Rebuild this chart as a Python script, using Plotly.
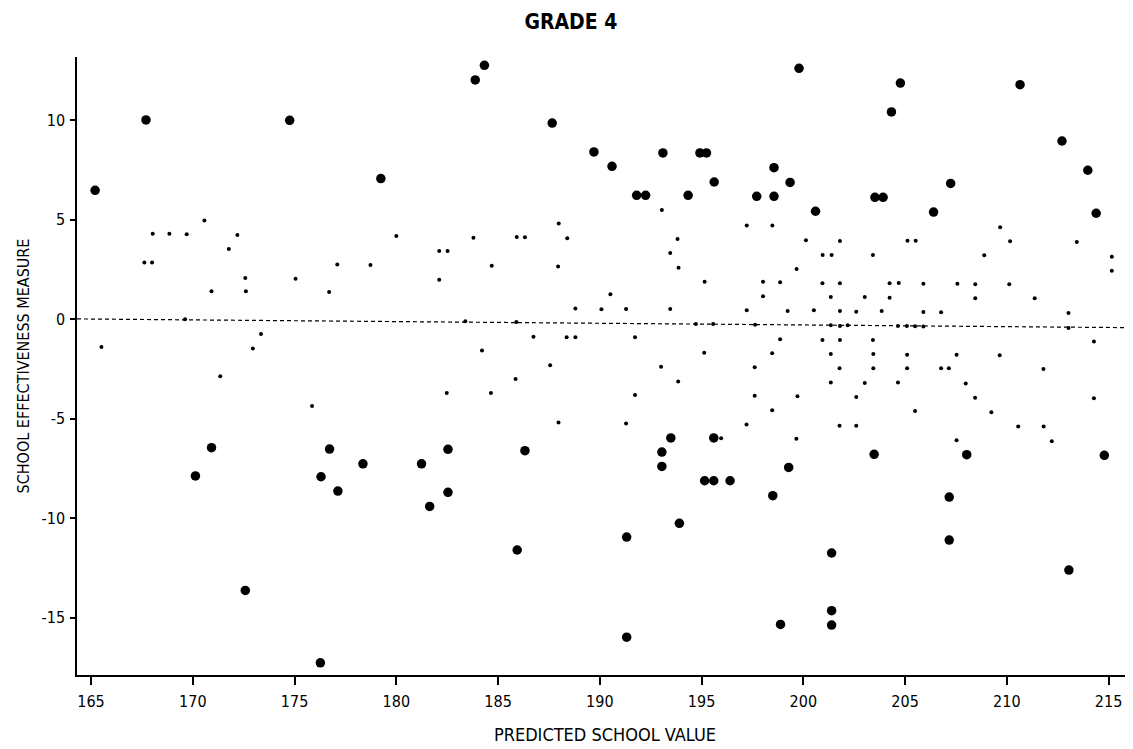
import plotly.graph_objects as go

# Large (outlying) schools
big_x = [167.70, 174.76, 165.2, 184.33, 183.88, 187.66, 189.71, 179.24, 199.79, 190.60,
         193.10, 194.92, 195.24, 195.62, 191.81, 192.25, 194.34, 197.71, 198.56, 198.56,
         199.35, 200.6, 203.52, 203.92, 204.77, 204.33, 210.65, 212.71, 213.98, 214.39,
         207.24, 206.40,
         170.92, 170.13, 172.58, 176.72, 176.30, 177.13, 176.27, 178.36, 181.24, 181.64,
         182.54, 182.54, 186.32, 185.94, 193.49, 193.05, 193.05, 195.60, 195.15, 195.60,
         196.40, 199.28, 198.50, 193.91, 191.32, 191.32, 201.39, 201.39, 201.39, 198.88,
         203.48, 208.03, 207.17, 207.17, 213.05, 214.79]
big_y = [10.02, 10.0, 6.48, 12.76, 12.03, 9.86, 8.41, 7.07, 12.61, 7.69,
         8.36, 8.36, 8.36, 6.90, 6.23, 6.23, 6.23, 6.18, 6.18, 7.62,
         6.88, 5.43, 6.13, 6.13, 11.87, 10.42, 11.79, 8.96, 7.49, 5.33,
         6.83, 5.39,
         -6.45, -7.87, -13.62, -6.52, -7.91, -8.63, -17.26, -7.26, -7.26, -9.40,
         -6.53, -8.69, -6.60, -11.59, -5.96, -6.67, -7.39, -5.96, -8.11, -8.11,
         -8.11, -7.44, -8.86, -10.25, -10.94, -15.97, -11.74, -14.64, -15.36, -15.33,
         -6.78, -6.80, -8.93, -11.09, -12.60, -6.83]

# Small (typical) schools
small_x = [168.03, 168.85, 169.70, 170.57, 167.62, 168.0, 172.19, 171.77, 172.58, 172.61,
           170.92, 175.05, 176.7, 177.1, 169.62, 165.51, 172.95, 173.35,
           180.0, 182.11, 182.52, 183.79, 185.92, 186.32, 187.98, 188.40, 187.95, 178.73,
           182.11, 184.69, 188.80, 190.08, 183.39, 185.9, 186.74, 188.37, 188.80, 184.21,
           187.56,
           193.05, 197.22, 198.48, 193.82, 193.46, 193.87, 200.13, 201.80, 200.95, 201.39,
           203.42, 199.67, 195.15, 198.02, 198.86, 200.94, 201.80, 198.02, 201.35, 203.02,
           190.52, 191.29, 193.46, 197.22, 199.23, 200.52, 201.80, 202.6, 194.72, 195.57,
           197.63, 201.35, 201.80, 202.18, 191.73, 198.86, 200.94, 201.80, 203.42, 195.13,
           198.47, 201.35, 203.44, 193.01, 197.61, 201.78, 203.44,
           209.67, 210.16, 205.12, 205.52, 213.44, 208.89, 215.16, 215.16, 204.24, 204.69,
           205.90, 207.57, 208.45, 210.12, 204.24, 208.45, 211.37, 203.85, 205.90, 206.77,
           213.03, 204.65, 205.09, 205.49, 205.90, 213.03, 214.28, 205.1, 207.53, 209.65,
           205.1, 206.77, 207.15, 211.8,
           171.35, 175.86, 182.48, 184.65, 185.86, 187.97,
           193.85, 191.73, 191.29, 197.61, 199.71, 198.47, 197.21, 195.96, 199.66, 201.35,
           203.02, 202.6, 201.78, 202.6,
           204.65, 207.98, 208.44, 205.49, 209.24, 210.56, 211.81, 212.21, 207.53, 214.28]
small_y = [4.30, 4.30, 4.27, 4.97, 2.86, 2.86, 4.24, 3.53, 2.08, 1.41,
           1.41, 2.04, 1.37, 2.76, 0.0, -1.39, -1.46, -0.74,
           4.19, 3.43, 3.43, 4.10, 4.14, 4.12, 4.82, 4.07, 2.66, 2.73,
           1.99, 2.69, 0.55, 0.50, -0.10, -0.14, -0.87, -0.90, -0.90, -1.56,
           -2.31,
           5.49, 4.72, 4.72, 4.04, 3.33, 2.59, 3.97, 3.93, 3.23, 3.23,
           3.23, 2.53, 1.89, 1.89, 1.86, 1.81, 1.81, 1.16, 1.12, 1.12,
           1.26, 0.52, 0.52, 0.45, 0.42, 0.45, 0.42, 0.38, -0.24, -0.24,
           -0.27, -0.30, -0.34, -0.30, -0.90, -1.0, -1.04, -1.04, -1.04, -1.68,
           -1.71, -1.74, -1.74, -2.38, -2.41, -2.46, -2.46,
           4.62, 3.92, 3.95, 3.95, 3.88, 3.22, 3.15, 2.44, 1.81, 1.82,
           1.79, 1.79, 1.76, 1.76, 1.09, 1.06, 1.06, 0.42, 0.37, 0.35,
           0.32, -0.34, -0.34, -0.35, -0.36, -0.44, -1.11, -1.78, -1.78, -1.81,
           -2.46, -2.46, -2.46, -2.50,
           -2.86, -4.36, -3.70, -3.70, -3.0, -5.18,
           -3.13, -3.80, -5.24, -3.84, -3.87, -4.57, -5.28, -5.98, -6.0, -3.17,
           -3.20, -3.90, -5.35, -5.35,
           -3.17, -3.22, -3.94, -4.61, -4.67, -5.38, -5.38, -6.12, -6.08, -3.97]

# Reference (fitted) line
line_x = [164.31, 216.2]
line_y = [0.02, -0.42]

x_ticks = [165, 170, 175, 180, 185, 190, 195, 200, 205, 210, 215]
y_ticks = [-15, -10, -5, 0, 5, 10]
y_tick_labels = ["-15", "-10", "-5", "0", "5", "10"]

FONT = "Liberation Sans Narrow, DejaVu Sans Condensed, Arial Narrow, sans-serif"

fig = go.Figure()
fig.add_trace(go.Scatter(x=line_x, y=line_y, mode="lines",
                         line=dict(color="black", width=1.2, dash="4px,3px"),
                         hoverinfo="skip"))
fig.add_trace(go.Scatter(x=small_x, y=small_y, mode="markers",
                         marker=dict(color="black", size=4, line=dict(width=0))))
fig.add_trace(go.Scatter(x=big_x, y=big_y, mode="markers",
                         marker=dict(color="black", size=9.5, line=dict(width=0))))

# The page body has an 8px margin, so the figure is sized/offset to compensate.
fig.update_layout(
    width=1125, height=741,
    paper_bgcolor="white", plot_bgcolor="white",
    showlegend=False,
    margin=dict(l=69, r=0, t=49, b=74, autoexpand=False),
    font=dict(family=FONT, color="black", size=15),
    title=dict(text="<b>GRADE 4</b>", x=0.5004, xanchor="center", y=0.981, yanchor="middle",
               font=dict(family=FONT, size=21, color="black")),
)
fig.update_xaxes(
    range=[164.31, 216.2], tickvals=x_ticks, ticks="outside", ticklen=8, tickwidth=1.5,
    tickcolor="black", showline=True, linecolor="black", linewidth=1.5,
    showgrid=False, zeroline=False, tickfont=dict(size=16), ticklabelstandoff=3,
    title=dict(text="PREDICTED SCHOOL VALUE", font=dict(size=18), standoff=18),
)
fig.update_yaxes(
    range=[-17.87, 13.18], tickvals=y_ticks, ticktext=y_tick_labels,
    ticks="outside", ticklen=5, tickwidth=1.5,
    tickcolor="black", showline=True, linecolor="black", linewidth=1.5,
    showgrid=False, zeroline=False, tickfont=dict(size=16), ticklabelstandoff=2,
    title=dict(text="SCHOOL EFFECTIVENESS MEASURE", font=dict(size=16), standoff=8),
)

fig.write_html("out.html")
